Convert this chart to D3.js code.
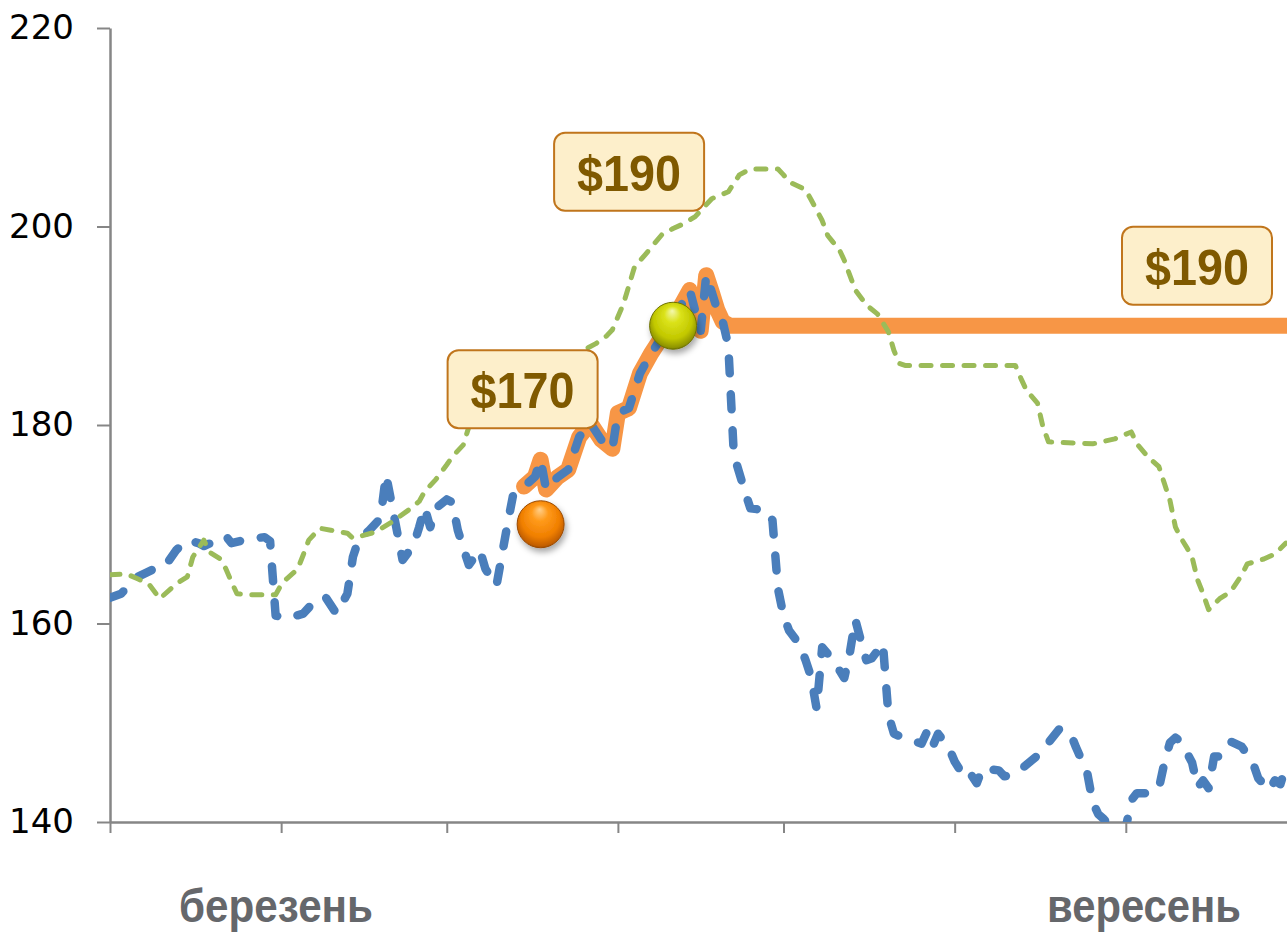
<!DOCTYPE html>
<html>
<head>
<meta charset="utf-8">
<script src="https://cdn.jsdelivr.net/npm/d3@7"></script>
<style>
  html, body { margin: 0; padding: 0; background: #ffffff; }
  svg { display: block; }
</style>
</head>
<body>
<svg id="chart" width="1287" height="932"></svg>
<script>
// ---- data -------------------------------------------------------------
// Days are counted from 1 March; prices in dollars.
const blueDays = [
  0, 2, 5, 8, 10, 12, 14, 16, 17, 19, 21, 22, 25, 28, 29, 30, 32, 35, 37, 39,
  41, 43, 44, 45, 47, 49, 50, 53, 55, 56, 57, 58, 59, 61, 62, 63, 64, 65, 67, 68,
  70, 72, 73, 75, 77, 78, 79, 81, 83, 85, 87, 89, 91, 92, 94, 96, 98, 100, 102, 105,
  106, 107, 108, 109, 110, 111, 112, 113, 115, 116, 119, 120, 121, 122, 123, 125, 126, 127, 128, 129,
  131, 133, 134, 135, 136, 137, 138, 140, 141, 142, 144, 147, 148, 149, 150, 152, 153, 154, 155, 157,
  158, 161, 162, 163, 165, 168, 170, 172, 174, 175, 177, 178, 179, 180, 182, 184, 185, 186, 188, 190,
  191, 192, 193, 194, 196, 197, 198, 199, 200, 201, 203, 205, 207, 208, 210, 211, 212, 213
];
const blueValues = [
  162.6, 163.0, 164.7, 165.5, 165.8, 167.4, 168.4, 168.1, 167.8, 168.3, 168.8, 168.1, 168.5, 168.7, 168.3, 160.8, 160.5, 161.0, 162.2, 162.7,
  161.0, 163.0, 166.7, 168.4, 169.4, 170.6, 175.0, 166.4, 167.9, 169.7, 171.7, 169.7, 171.6, 172.5, 172.2, 169.4, 167.6, 165.9, 167.4, 165.5,
  163.8, 170.0, 172.9, 173.8, 174.8, 176.5, 173.5, 174.7, 175.5, 178.8, 180.2, 178.5, 177.6, 181.2, 181.7, 185.2, 187.2, 188.9, 190.6, 193.6,
  191.5, 189.5, 195.1, 193.4, 191.6, 190.4, 188.0, 177.0, 173.3, 171.6, 171.4, 170.4, 163.5, 160.8, 159.3, 157.8, 156.3, 154.6, 151.4, 157.6,
  156.3, 154.5, 157.0, 160.4, 158.3, 156.3, 156.5, 158.0, 150.8, 148.9, 148.4, 147.9, 149.1, 147.6, 148.9, 147.4, 146.1, 145.2, 145.6, 143.9,
  145.4, 145.2, 144.6, 144.7, 145.3, 146.7, 148.0, 149.4, 148.9, 147.5, 145.0, 142.0, 140.8, 140.3, 139.0, 139.4, 142.2, 142.9, 142.9, 143.4,
  146.0, 148.0, 148.5, 148.1, 146.0, 143.5, 144.2, 143.4, 146.6, 146.6, 148.1, 147.6, 146.0, 144.4, 143.2, 144.2, 143.8, 145.6
];

const greenDays = [
  0, 3, 5, 7, 9, 12, 14, 15, 17, 18, 20, 21, 22, 23, 25, 30, 31, 32, 34, 35,
  36, 38, 40, 43, 44, 48, 51, 54, 56, 57, 59, 61, 62, 64, 65, 71, 78, 84, 88, 90,
  91, 93, 95, 97, 100, 102, 104, 106, 109, 112, 114, 116, 121, 122, 123, 126, 127, 129, 130, 131,
  132, 133, 135, 137, 139, 141, 142, 143, 144, 164, 165, 166, 168, 169, 170, 178, 182, 185, 186, 188,
  190, 191, 192, 193, 194, 195, 196, 197, 198, 199, 201, 203, 205, 206, 209, 211, 213
];
const greenValues = [
  164.9, 165.0, 164.5, 164.0, 162.5, 164.0, 164.7, 166.7, 168.4, 167.2, 166.5, 165.5, 164.2, 163.0, 162.9, 162.9, 163.9, 164.5, 165.5, 166.9,
  168.4, 169.6, 169.4, 169.1, 168.6, 169.2, 170.2, 171.4, 172.3, 173.3, 174.5, 176.0, 176.8, 178.0, 179.8, 181.8, 184.6, 187.0, 188.2, 189.0,
  189.6, 192.2, 195.9, 197.2, 199.2, 199.8, 200.3, 201.0, 202.8, 203.5, 205.2, 205.8, 205.8, 205.2, 204.5, 203.7, 202.7, 200.6, 199.1, 198.4,
  197.8, 196.6, 193.6, 192.1, 191.2, 189.4, 187.5, 186.2, 186.0, 186.0, 184.7, 183.5, 182.2, 179.8, 178.3, 178.1, 178.6, 179.3, 178.1, 176.8,
  175.8, 174.1, 172.4, 169.7, 168.6, 167.7, 166.7, 164.4, 163.0, 161.4, 162.5, 163.2, 164.9, 166.0, 166.5, 167.0, 168.1
];

// Holding window of the position and its fixed exit price
const holdStartDay = 75;
const holdEndDay = 111;
const exitPrice = 190;

// Entry / exit markers
const markerDays = [78, 102];
const markerValues = [170, 190];

// Price call-outs
const calloutDays = [78, 102, 213.2];
const calloutValues = [170, 190, 190];

const yTicks = [140, 160, 180, 200, 220];
const monthLabels = ["березень", "вересень"];

// ---- layout ------------------------------------------------------------
const W = 1287, H = 932;
const plot = { left: 110, right: 1287, top: 28, bottom: 822 };
const lastDay = 213.2;
const startDate = new Date(2011, 2, 1);
const dayToDate = d => new Date(startDate.getTime() + d * 864e5);
const monthLabelX = [276, 1144];
const calloutOffsets = [[-18, -135], [-44, -154], [-90, -60]];
const boxW = 150, boxH = 78;

const svg = d3.select("#chart");

const x = d3.scaleTime()
  .domain([startDate, dayToDate(lastDay)])
  .range([plot.left, plot.right]);
const y = d3.scaleLinear()
  .domain([140, 220])
  .range([plot.bottom, plot.top]);

const defs = svg.append("defs");
defs.append("clipPath").attr("id", "plotClip")
  .append("rect")
  .attr("x", plot.left).attr("y", plot.top)
  .attr("width", plot.right - plot.left).attr("height", plot.bottom - plot.top);

// glossy ball gradients
function ballGradient(id, stops) {
  const g = defs.append("radialGradient").attr("id", id)
    .attr("cx", "50%").attr("cy", "45%").attr("r", "58%")
    .attr("fx", "48%").attr("fy", "18%");
  stops.forEach(s => g.append("stop").attr("offset", s[0]).attr("stop-color", s[1]));
}
ballGradient("ballOrange", [["0%", "#ffd08c"], ["30%", "#ff9a1a"], ["70%", "#f07f00"], ["92%", "#c25e00"], ["100%", "#8a4000"]]);
ballGradient("ballLime", [["0%", "#f4f8b0"], ["30%", "#dbe21a"], ["70%", "#c2c800"], ["92%", "#8f9400"], ["100%", "#5e6200"]]);

const shadow = defs.append("filter").attr("id", "ballShadow")
  .attr("x", "-50%").attr("y", "-50%").attr("width", "200%").attr("height", "200%");
shadow.append("feDropShadow")
  .attr("dx", 2).attr("dy", 4).attr("stdDeviation", 3)
  .attr("flood-color", "#000").attr("flood-opacity", 0.35);

// ---- axes --------------------------------------------------------------
const axisColor = "#868686";

const yAxis = svg.append("g")
  .attr("transform", `translate(${plot.left},0)`)
  .call(d3.axisLeft(y).tickValues(yTicks).tickSize(13).tickSizeOuter(0).tickPadding(23));
yAxis.select(".domain").attr("stroke", axisColor).attr("stroke-width", 2.5);
yAxis.selectAll(".tick line").attr("stroke", axisColor).attr("stroke-width", 2);
yAxis.selectAll(".tick text")
  .attr("fill", "#000")
  .style("font-family", "'DejaVu Sans', sans-serif")
  .style("font-size", "34px");

const monthTicks = d3.timeMonth.range(startDate, dayToDate(lastDay));
const xAxis = svg.append("g")
  .attr("transform", `translate(0,${plot.bottom})`)
  .call(d3.axisBottom(x).tickValues(monthTicks).tickSize(11).tickSizeOuter(0).tickFormat(() => ""));
xAxis.select(".domain").attr("stroke", axisColor).attr("stroke-width", 2.5);
xAxis.selectAll(".tick line").attr("stroke", axisColor).attr("stroke-width", 2);

svg.append("g").selectAll("text")
  .data(monthLabels)
  .join("text")
  .attr("x", (d, i) => monthLabelX[i])
  .attr("y", 922)
  .attr("text-anchor", "middle")
  .attr("textLength", 194)
  .attr("lengthAdjust", "spacingAndGlyphs")
  .attr("fill", "#65676b")
  .style("font-family", "'Liberation Sans', Arial, sans-serif")
  .style("font-weight", "bold")
  .style("font-size", "46px")
  .text(d => d);

// ---- series ------------------------------------------------------------
const line = d3.line()
  .x(d => x(dayToDate(d[0])))
  .y(d => y(d[1]));

const blue = blueDays.map((d, i) => [d, blueValues[i]]);
const green = greenDays.map((d, i) => [d, greenValues[i]]);
const hold = blue
  .filter(d => d[0] >= holdStartDay && d[0] <= holdEndDay)
  .concat([[holdEndDay + 1.3, exitPrice], [lastDay, exitPrice]]);

const lines = svg.append("g").attr("clip-path", "url(#plotClip)");

lines.append("path")
  .attr("d", line(hold))
  .attr("fill", "none")
  .attr("stroke", "#f79646")
  .attr("stroke-width", 16)
  .attr("stroke-linejoin", "round")
  .attr("stroke-linecap", "round");

lines.append("path")
  .attr("d", line(blue))
  .attr("fill", "none")
  .attr("stroke", "#4a7ebb")
  .attr("stroke-width", 8.5)
  .attr("stroke-linejoin", "round")
  .attr("stroke-linecap", "round")
  .attr("stroke-dasharray", "15 21");

lines.append("path")
  .attr("d", line(green))
  .attr("fill", "none")
  .attr("stroke", "#9bbb59")
  .attr("stroke-width", 5)
  .attr("stroke-linejoin", "round")
  .attr("stroke-linecap", "round")
  .attr("stroke-dasharray", "10 11.5");

// ---- markers -----------------------------------------------------------
const ballFills = ["url(#ballOrange)", "url(#ballLime)"];
const ballRims = ["#9a4a00", "#6e7200"];
svg.append("g").selectAll("circle")
  .data(markerDays)
  .join("circle")
  .attr("cx", d => x(dayToDate(d)))
  .attr("cy", (d, i) => y(markerValues[i]))
  .attr("r", 23.5)
  .attr("fill", (d, i) => ballFills[i])
  .attr("stroke", (d, i) => ballRims[i])
  .attr("stroke-width", 1)
  .attr("filter", "url(#ballShadow)");

// ---- call-outs ---------------------------------------------------------
const callouts = svg.append("g").selectAll("g")
  .data(calloutValues)
  .join("g")
  .attr("transform", (v, i) => {
    const cx = x(dayToDate(calloutDays[i])) + calloutOffsets[i][0];
    const cy = y(v) + calloutOffsets[i][1];
    return `translate(${cx},${cy})`;
  });

callouts.append("rect")
  .attr("x", -boxW / 2).attr("y", -boxH / 2)
  .attr("width", boxW).attr("height", boxH)
  .attr("rx", 11).attr("ry", 11)
  .attr("fill", "#fdefcb")
  .attr("stroke", "#c0751c")
  .attr("stroke-width", 2);

callouts.append("text")
  .attr("x", 0).attr("y", 19)
  .attr("text-anchor", "middle")
  .attr("textLength", 104)
  .attr("lengthAdjust", "spacingAndGlyphs")
  .attr("fill", "#7f5900")
  .style("font-family", "'Liberation Sans', Arial, sans-serif")
  .style("font-weight", "bold")
  .style("font-size", "50px")
  .text(v => "$" + v);
</script>
</body>
</html>
